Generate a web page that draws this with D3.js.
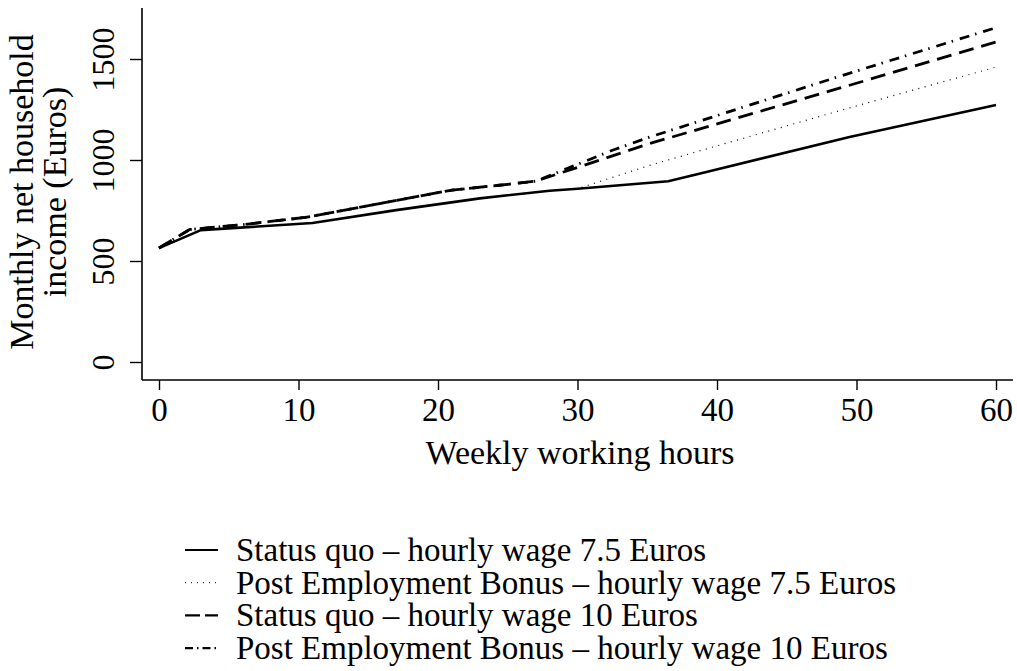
<!DOCTYPE html>
<html>
<head>
<meta charset="utf-8">
<script src="https://cdn.jsdelivr.net/npm/d3@7"></script>
<style>
  body { margin: 0; background: #fff; }
  text { font-family: "Liberation Serif", "DejaVu Serif", serif; fill: #000; }
</style>
</head>
<body>
<div id="chart"></div>
<script>
// values
const hoursSQ75 = [0, 3, 11, 17, 23, 28, 30, 36.5, 38.8, 49.5, 60]
const incomeSQ75 = [564, 653, 688, 752, 810, 848, 858, 895, 933, 1114, 1272]

const hoursPEB75 = [0, 3, 11, 17, 23, 28, 30, 35, 40, 50, 60]
const incomePEB75 = [564, 653, 688, 752, 810, 848, 858, 970, 1070, 1268, 1460]

const hoursSQ10 = [0, 2.2, 6, 10.5, 21, 24.4, 27, 35.2, 49.5, 60]
const incomeSQ10 = [564, 656, 680, 716, 851, 875, 895, 1082, 1370, 1584]

const hoursPEB10 = [0, 2.2, 6, 10.5, 21, 24.4, 27, 32.5, 35.2, 49, 60]
const incomePEB10 = [564, 656, 680, 716, 851, 875, 895, 1048, 1114, 1419, 1655]

const seriesNames = [
  "Status quo \u2013 hourly wage 7.5 Euros",
  "Post Employment Bonus \u2013 hourly wage 7.5 Euros",
  "Status quo \u2013 hourly wage 10 Euros",
  "Post Employment Bonus \u2013 hourly wage 10 Euros"
]
const xTicks = [0, 10, 20, 30, 40, 50, 60]
const yTicks = [0, 500, 1000, 1500]

const lineStyles = [
  {dash: null, width: 2.6},
  {dash: "1,5.5", width: 1.2},
  {dash: "15,8", width: 2.8},
  {dash: "10,6,1.5,7", width: 2.8}
]
const legendDash = [null, "1,5", "15,5", "8,4,1.5,4"]

const series = [
  [hoursSQ75, incomeSQ75],
  [hoursPEB75, incomePEB75],
  [hoursSQ10, incomeSQ10],
  [hoursPEB10, incomePEB10]
].map(([h, v], i) => ({
  name: seriesNames[i],
  points: h.map((d, j) => ({x: d, y: v[j]}))
}))

const width = 1017, height = 671
const fontSize = 33

const x = d3.scaleLinear().domain([0, 60]).range([159, 996])
const y = d3.scaleLinear().domain([0, 1500]).range([362, 59])

const svg = d3.select("#chart").append("svg")
  .attr("width", width)
  .attr("height", height)

// axis lines (Stata style, plot region edges)
const axisLeft = 142, axisBottom = 380
svg.append("line")
  .attr("x1", axisLeft).attr("x2", axisLeft)
  .attr("y1", 8).attr("y2", axisBottom)
  .attr("stroke", "#000").attr("stroke-width", 1.6)
svg.append("line")
  .attr("x1", axisLeft).attr("x2", 1013)
  .attr("y1", axisBottom).attr("y2", axisBottom)
  .attr("stroke", "#000").attr("stroke-width", 1.6)

// x axis
const xAxis = svg.append("g")
  .attr("transform", `translate(0,${axisBottom})`)
  .call(d3.axisBottom(x).tickValues(xTicks).tickFormat(d3.format("d")).tickSize(10).tickSizeOuter(0))
xAxis.select(".domain").remove()
xAxis.selectAll(".tick line").attr("stroke-width", 1.4)
xAxis.selectAll(".tick text")
  .attr("font-size", fontSize)
  .attr("dy", null)
  .attr("y", 41)

// y axis
const yAxis = svg.append("g")
  .attr("transform", `translate(${axisLeft},0)`)
  .call(d3.axisLeft(y).tickValues(yTicks).tickFormat(d3.format("d")).tickSize(12).tickSizeOuter(0))
yAxis.select(".domain").remove()
yAxis.selectAll(".tick line").attr("stroke-width", 1.4)
yAxis.selectAll(".tick text")
  .attr("font-size", 32)
  .attr("text-anchor", "middle")
  .attr("x", null).attr("dy", null)
  .attr("transform", "translate(-28,0) rotate(-90)")

// axis titles
svg.append("text")
  .attr("x", 580).attr("y", 464)
  .attr("text-anchor", "middle")
  .attr("font-size", 34)
  .text("Weekly working hours")

const yTitle = svg.append("text")
  .attr("transform", "translate(0,192) rotate(-90)")
  .attr("text-anchor", "middle")
  .attr("font-size", 34)
yTitle.append("tspan").attr("x", 0).attr("y", 33).text("Monthly net household")
yTitle.append("tspan").attr("x", 0).attr("y", 66).text("income (Euros)")

// lines
const line = d3.line().x(d => x(d.x)).y(d => y(d.y))
svg.append("g")
  .selectAll("path")
  .data(series)
  .enter()
  .append("path")
  .attr("d", d => line(d.points))
  .attr("fill", "none")
  .attr("stroke", "#000")
  .attr("stroke-linejoin", "round")
  .attr("stroke-width", (d, i) => lineStyles[i].width)
  .attr("stroke-dasharray", (d, i) => lineStyles[i].dash)

// legend
const legend = svg.append("g")
const rowY = i => 561 + i * 32.7
legend.selectAll("line")
  .data(series)
  .enter()
  .append("line")
  .attr("x1", 185).attr("x2", 218)
  .attr("y1", (d, i) => rowY(i) - 11)
  .attr("y2", (d, i) => rowY(i) - 11)
  .attr("stroke", "#000")
  .attr("stroke-width", (d, i) => i === 1 ? 1 : 2.2)
  .attr("stroke-dasharray", (d, i) => legendDash[i])
legend.selectAll("text")
  .data(series)
  .enter()
  .append("text")
  .attr("x", 236)
  .attr("y", (d, i) => rowY(i))
  .attr("font-size", fontSize)
  .text(d => d.name)
</script>
</body>
</html>
